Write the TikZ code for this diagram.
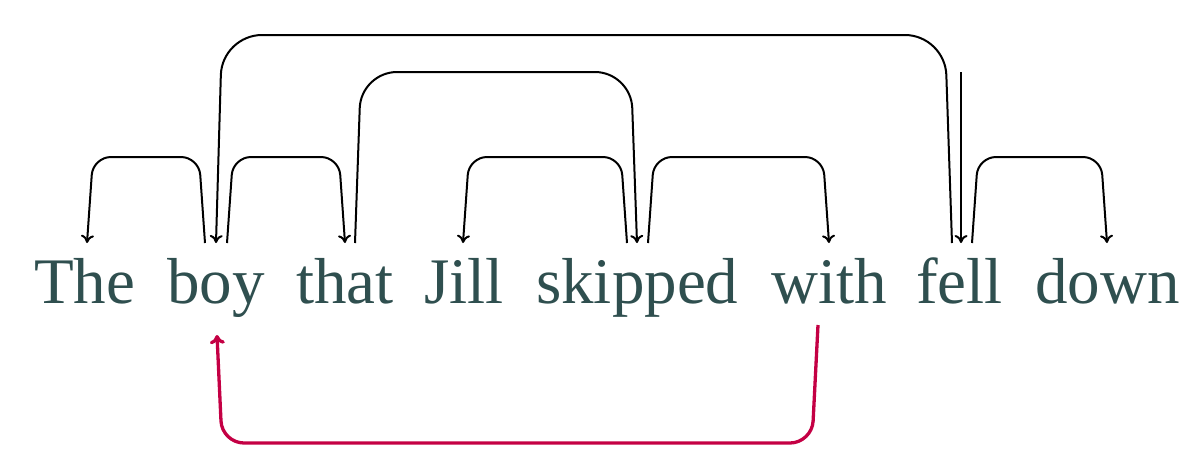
\documentclass[tikz,border=0pt]{standalone}
\usepackage{fontspec}
\setmainfont{Liberation Serif}
\usetikzlibrary{arrows.meta}
\definecolor{wordcol}{RGB}{47,79,79}
\definecolor{backcol}{RGB}{196,0,68}
\begin{document}
\begin{tikzpicture}[x=1pt,y=-1pt,
  word/.style={anchor=base west, inner sep=0pt, text=wordcol, font=\fontsize{65}{78}\selectfont},
  dep/.style={draw=black, line width=2pt, -{Computer Modern Rightarrow[length=8pt,width=13pt]}},
  backdep/.style={draw=backcol, line width=3.3pt, -{Computer Modern Rightarrow[length=9pt,width=15pt]}, rounded corners=22pt}]
\useasboundingbox (0,0) rectangle (1187,451);
% words
\node[word] (w1) at (34,303) {The};
\node[word] (w2) at (167,303) {boy};
\node[word] (w3) at (296,303) {that};
\node[word] (w4) at (424,303) {Jill};
\node[word] (w5) at (536,303) {skipped};
\node[word] (w6) at (771,303) {with};
\node[word] (w7) at (916,303) {fell};
\node[word] (w8) at (1035,303) {down};
% endpoints
\coordinate (theIn) at (87,243);
\coordinate (boyOutA) at (205,243);
\coordinate (boyIn) at (216,243);
\coordinate (boyOutB) at (227,243);
\coordinate (thatIn) at (345,243);
\coordinate (thatOut) at (355,243);
\coordinate (jillIn) at (463,243);
\coordinate (skOutA) at (627,243);
\coordinate (skIn) at (637,243);
\coordinate (skOutB) at (648,243);
\coordinate (withIn) at (829,243);
\coordinate (fellOutA) at (952,243);
\coordinate (fellIn) at (961,243);
\coordinate (fellOutB) at (972,243);
\coordinate (downIn) at (1107,243);
\coordinate (root) at (961,72);
\coordinate (withBack) at (818,325);
\coordinate (boyBack) at (217,335);
% arcs
\draw[dep, rounded corners=18pt] (boyOutA) -- (199,157) -- (93,157) -- (theIn);
\draw[dep, rounded corners=18pt] (boyOutB) -- (233,157) -- (339,157) -- (thatIn);
\draw[dep, rounded corners=40pt] (fellOutA) -- (945,35) -- (222,35) -- (boyIn);
\draw[dep, rounded corners=36pt] (thatOut) -- (361,72) -- (631,72) -- (skIn);
\draw[dep, rounded corners=18pt] (skOutA) -- (621,157) -- (469,157) -- (jillIn);
\draw[dep, rounded corners=18pt] (skOutB) -- (654,157) -- (823,157) -- (withIn);
\draw[dep, rounded corners=18pt] (fellOutB) -- (978,157) -- (1101,157) -- (downIn);
\draw[dep] (root) -- (fellIn);
\draw[backdep] (withBack) -- (812,443) -- (222,443) -- (boyBack);
\end{tikzpicture}
\end{document}
